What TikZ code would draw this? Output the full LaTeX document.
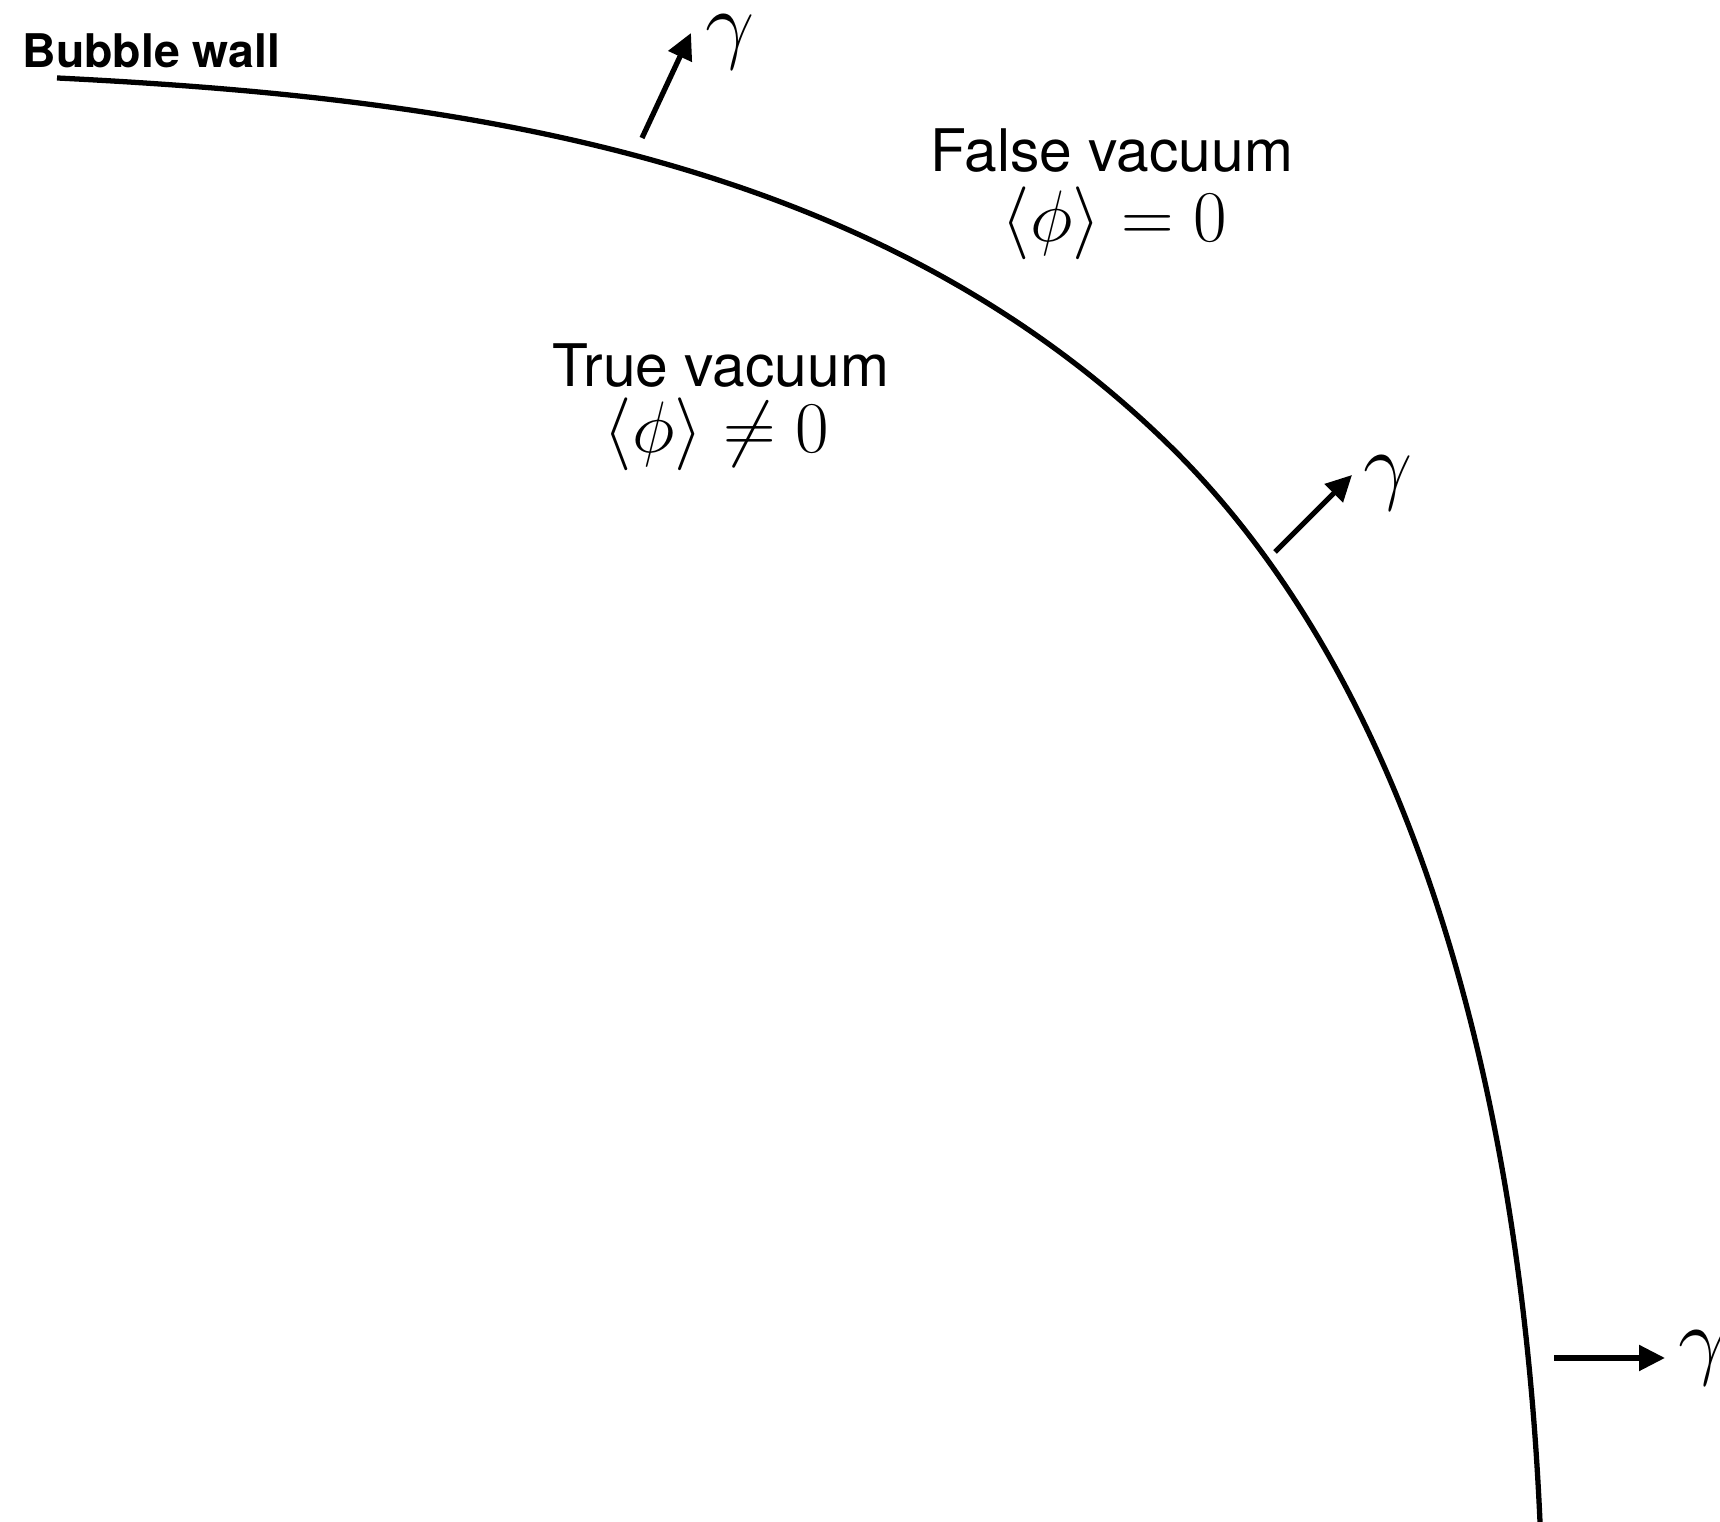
\documentclass[tikz,border=0pt]{standalone}
\usepackage{amsmath,amssymb}
\usepackage{fontspec}
\setsansfont{TeX Gyre Heros}
\usepackage{tikz}
\usetikzlibrary{positioning,arrows.meta}

\begin{document}
\begin{tikzpicture}[
    wall/.style={line width=1.5pt},
    photon/.style={line width=1.5pt,-{Triangle[length=2.6mm,width=2.5mm]}},
    region/.style={inner sep=0pt,anchor=base,font=\sffamily\fontsize{16.7}{19}\selectfont},
    vev/.style={inner sep=0pt,anchor=base,font=\fontsize{19.8}{22}\selectfont},
    gam/.style={inner sep=0pt,anchor=base west,font=\fontsize{28}{30}\selectfont}]

\useasboundingbox (0,0) rectangle (17.2,15.22);

% the bubble wall
\draw[wall] (0.57,14.44) .. controls (4.57,14.24) and (8.74,13.68) .. (11.72,10.74)
    .. controls (14.06,8.43) and (15.20,4.50) .. (15.40,0.00) -- (15.41,-0.20);

\node[inner sep=0pt,anchor=base west,font=\sffamily\bfseries\fontsize{13.2}{15}\selectfont] (wall) at (0.22,14.54) {Bubble wall};

\node[region] (falsevac) at (11.12,13.50) {False vacuum};
\node[vev] (falsephi) at (11.145,12.80) {$\langle\phi\rangle = 0$};
\node[region] (truevac) at (7.21,11.35) {True vacuum};
\node[vev] (truephi) at (7.165,10.69) {$\langle\phi\rangle \neq 0$};

% emitted photons
\coordinate (b1) at (6.42,13.84);
\coordinate (t1) at (6.91,14.89);
\coordinate (b2) at (12.75,9.70);
\coordinate (t2) at (13.52,10.47);
\coordinate (b3) at (15.54,1.64);
\coordinate (t3) at (16.65,1.64);

\draw[photon] (b1) -- (t1);
\draw[photon] (b2) -- (t2);
\draw[photon] (b3) -- (t3);

\node[gam] (g1) at (7.05,14.69) {$\gamma$};
\node[gam] (g2) at (13.63,10.28) {$\gamma$};
\node[gam] (g3) at (16.78,1.53) {$\gamma$};

\end{tikzpicture}
\end{document}
